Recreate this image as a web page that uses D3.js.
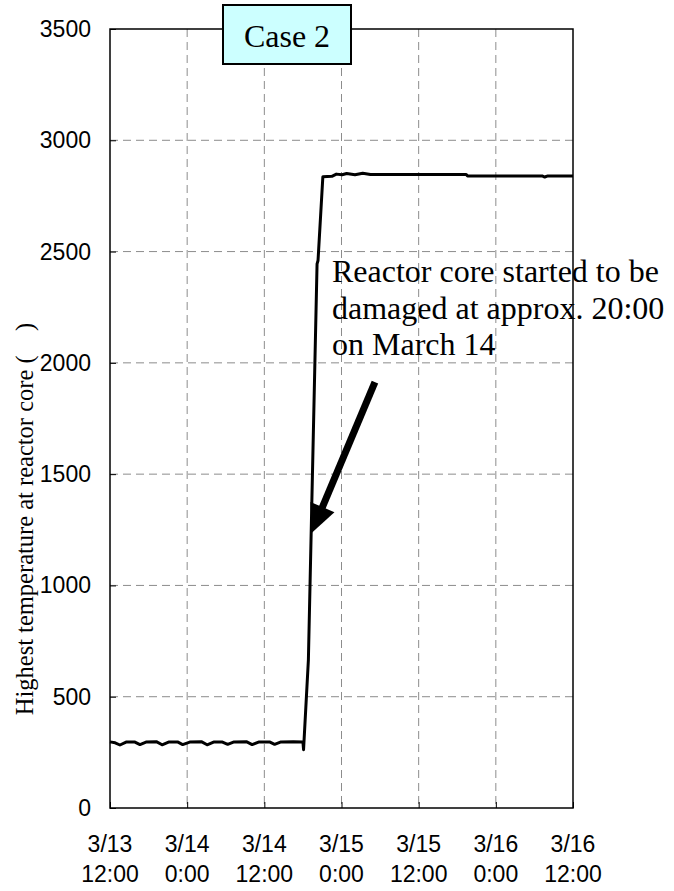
<!DOCTYPE html>
<html>
<head>
<meta charset="utf-8">
<script src="https://cdn.jsdelivr.net/npm/d3@7"></script>
<style>
  html, body { margin: 0; padding: 0; background: #fff; }
  svg { display: block; }
</style>
</head>
<body>
<svg id="chart" width="674" height="891"></svg>
<script>
// ---- data ----
// hours after 3/13 12:00
const hoursAfterStart = [
  0, 0.8, 1.55, 2.5, 3.8, 4.66, 5.6, 7.2, 8.1, 9.2, 10.5, 11.3, 12.4, 14.2, 15.1,
  16.2, 17.4, 18.3, 19.3, 21.2, 22.1, 23.2, 24.8, 25.6, 26.6, 28.5, 30.0, 30.1,
  30.85, 32.2, 32.35, 33.1, 34.5, 35.2, 36.1, 36.8, 38.1, 39.3, 40.5, 55.4, 55.6,
  67.2, 67.6, 68.1, 72
];
const coreTemperature = [
  297, 293, 283, 296, 297, 285, 296, 298, 284, 297, 297, 285, 296, 298, 284,
  297, 297, 286, 297, 298, 285, 297, 297, 286, 297, 298, 297, 262,
  665, 2445, 2460, 2836, 2838, 2848, 2845, 2851, 2845, 2852, 2846, 2846, 2840,
  2840, 2835, 2840, 2840
];
const xTickHours = [0, 12, 24, 36, 48, 60, 72];
const xTickLabels = [
  ["3/13", "12:00"], ["3/14", "0:00"], ["3/14", "12:00"], ["3/15", "0:00"],
  ["3/15", "12:00"], ["3/16", "0:00"], ["3/16", "12:00"]
];
const yTicks = [0, 500, 1000, 1500, 2000, 2500, 3000, 3500];
const caseLabel = "Case 2";
const yTitle = "Highest temperature at reactor core (\u2002\u2002)";
const noteLines = ["Reactor core started to be", "damaged at approx. 20:00", "on March 14"];
// arrow: [hours, temperature] start and tip
const arrowStart = [41.2, 1913];
const arrowTip = [31.35, 1236];

// ---- layout ----
const startTime = new Date(2011, 2, 13, 12, 0);
const toDate = h => new Date(startTime.getTime() + h * 3600 * 1000);

const plotLeft = 110, plotRight = 573, plotTop = 29, plotBottom = 808;
const svg = d3.select("#chart");

const x = d3.scaleTime().domain([toDate(0), toDate(72)]).range([plotLeft, plotRight]);
const y = d3.scaleLinear().domain([0, 3500]).range([plotBottom, plotTop]);

// gridlines
const grid = svg.append("g");
grid.selectAll("line.v").data(xTickHours.slice(1, -1)).join("line")
  .attr("x1", d => x(toDate(d))).attr("x2", d => x(toDate(d)))
  .attr("y1", plotTop).attr("y2", plotBottom)
  .attr("stroke", "#8c8c8c").attr("stroke-width", 1).attr("stroke-dasharray", "8,5");
grid.selectAll("line.h").data(yTicks.slice(1, -1)).join("line")
  .attr("x1", plotLeft).attr("x2", plotRight)
  .attr("y1", d => y(d)).attr("y2", d => y(d))
  .attr("stroke", "#8c8c8c").attr("stroke-width", 1).attr("stroke-dasharray", "8,5");

// axes with inward ticks
const yAxis = d3.axisLeft(y).tickValues(yTicks).tickSize(-6).tickFormat("");
svg.append("g").attr("transform", `translate(${plotLeft},0)`).call(yAxis)
  .call(g => g.select(".domain").remove())
  .selectAll("line").attr("stroke", "#000");
const xAxis = d3.axisBottom(x).tickValues(xTickHours.map(toDate)).tickSize(-6).tickFormat("");
svg.append("g").attr("transform", `translate(0,${plotBottom})`).call(xAxis)
  .call(g => g.select(".domain").remove())
  .selectAll("line").attr("stroke", "#000");

// frame
svg.append("rect").attr("x", plotLeft).attr("y", plotTop)
  .attr("width", plotRight - plotLeft).attr("height", plotBottom - plotTop)
  .attr("fill", "none").attr("stroke", "#000").attr("stroke-width", 1.5);

// y tick labels
svg.append("g").selectAll("text").data(yTicks).join("text")
  .attr("x", 91).attr("y", d => y(d) + 8)
  .attr("text-anchor", "end")
  .attr("font-family", "Liberation Sans, Arial, sans-serif")
  .attr("font-size", 23)
  .text(d => d);

// x tick labels
const xl = svg.append("g").selectAll("text").data(xTickHours).join("text")
  .attr("text-anchor", "middle")
  .attr("font-family", "Liberation Sans, Arial, sans-serif")
  .attr("font-size", 23);
xl.append("tspan").attr("x", d => x(toDate(d))).attr("y", 852).text((d, i) => xTickLabels[i][0]);
xl.append("tspan").attr("x", d => x(toDate(d))).attr("y", 882).text((d, i) => xTickLabels[i][1]);

// y title
svg.append("text")
  .attr("transform", `translate(33,519) rotate(-90)`)
  .attr("text-anchor", "middle")
  .attr("font-family", "Liberation Serif, Times New Roman, serif")
  .attr("font-size", 24.5)
  .style("white-space", "pre")
  .text(yTitle);

// data line
const series = hoursAfterStart.map((h, i) => ({ t: toDate(h), v: coreTemperature[i] }));
svg.append("path").datum(series)
  .attr("d", d3.line().x(d => x(d.t)).y(d => y(d.v)))
  .attr("fill", "none").attr("stroke", "#000").attr("stroke-width", 3)
  .attr("stroke-linejoin", "round");

// annotation text
svg.append("g").selectAll("text").data(noteLines).join("text")
  .attr("x", 332).attr("y", (d, i) => 282 + i * 36.5)
  .attr("font-family", "Liberation Serif, Times New Roman, serif")
  .attr("font-size", 32)
  .text(d => d);

// arrow
const ax0 = x(toDate(arrowStart[0])), ay0 = y(arrowStart[1]);
const ax1 = x(toDate(arrowTip[0])), ay1 = y(arrowTip[1]);
const adx = ax1 - ax0, ady = ay1 - ay0, alen = Math.hypot(adx, ady);
const ux = adx / alen, uy = ady / alen, px = -uy, py = ux;
const headLen = 28, headHalf = 13;
const bx = ax1 - ux * headLen, by = ay1 - uy * headLen;
svg.append("line").attr("x1", ax0).attr("y1", ay0).attr("x2", bx + ux * 2).attr("y2", by + uy * 2)
  .attr("stroke", "#000").attr("stroke-width", 7);
svg.append("path")
  .attr("d", `M${ax1},${ay1}L${bx + px * headHalf},${by + py * headHalf}L${bx - px * headHalf},${by - py * headHalf}Z`)
  .attr("fill", "#000");

// case box
svg.append("rect").attr("x", 223).attr("y", 5).attr("width", 128).attr("height", 59)
  .attr("fill", "#ccffff").attr("stroke", "#000").attr("stroke-width", 2);
svg.append("text").attr("x", 287).attr("y", 47).attr("text-anchor", "middle")
  .attr("font-family", "Liberation Serif, Times New Roman, serif")
  .attr("font-size", 32)
  .text(caseLabel);
</script>
</body>
</html>
